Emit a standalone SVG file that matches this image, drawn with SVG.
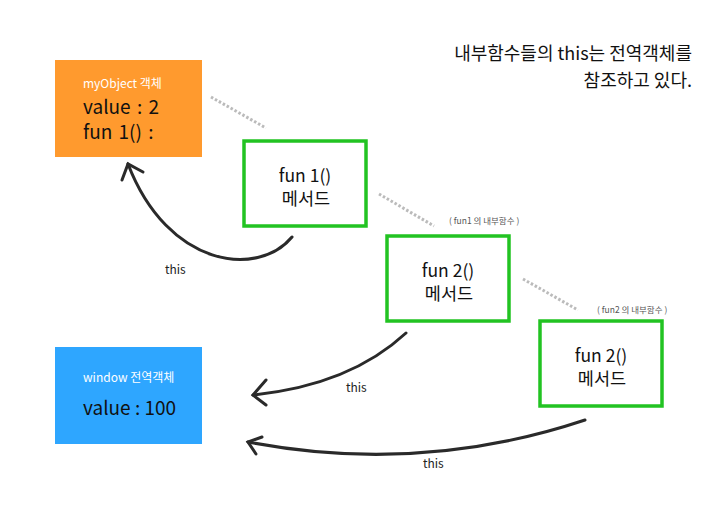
<svg xmlns="http://www.w3.org/2000/svg" width="725" height="530" viewBox="0 0 725 530">
<style>
text{font-family:"Noto Sans CJK KR","Noto Sans",sans-serif;}
.box{fill:#fff;stroke:#22c322;stroke-width:3.5}
.m{font-size:17.5px;fill:#111;text-anchor:middle}
.big{font-size:19px;fill:#111}
.sm{font-size:12px;fill:#fff}
.dot{stroke:#bbb;stroke-width:3;stroke-dasharray:2.5 2;fill:none}
.arr{stroke:#2a2a2a;stroke-width:3;fill:none;stroke-linecap:round}
.lbl{font-size:12px;fill:#222}
.note{font-size:8.5px;fill:#555}
</style>
<rect width="725" height="530" fill="#fff"/>
<g id="title">
<text x="692" y="60" font-size="18" fill="#111" text-anchor="end">내부함수들의 this는 전역객체를</text>
<text x="692" y="87" font-size="18" fill="#111" text-anchor="end">참조하고 있다.</text>
</g>
<g id="myObject">
<rect x="55" y="60" width="147" height="97" fill="#ff9a2e"/>
<text class="sm" x="83" y="88">myObject 객체</text>
<text class="big" x="83" y="114" word-spacing="2">value : 2</text>
<text class="big" x="83" y="139" word-spacing="2">fun 1() :</text>
</g>
<g id="window">
<rect x="55" y="347" width="147" height="97" fill="#2ea6ff"/>
<text class="sm" x="83" y="382">window 전역객체</text>
<text class="big" x="83" y="415">value : 100</text>
</g>
<g id="fun1">
<rect class="box" x="244" y="141" width="122" height="85"/>
<text class="m" x="305" y="182">fun 1()</text>
<text class="m" x="306" y="205">메서드</text>
</g>
<g id="fun2a">
<rect class="box" x="387" y="236" width="122" height="85"/>
<text class="m" x="448" y="277">fun 2()</text>
<text class="m" x="449" y="300">메서드</text>
<text class="note" x="449" y="224">( fun1 의 내부함수 )</text>
</g>
<g id="fun2b">
<rect class="box" x="540" y="321" width="122" height="85"/>
<text class="m" x="601" y="362">fun 2()</text>
<text class="m" x="602" y="385">메서드</text>
<text class="note" x="597" y="313">( fun2 의 내부함수 )</text>
</g>
<g id="connectors">
<line class="dot" x1="211" y1="97" x2="266" y2="128"/>
<line class="dot" x1="379" y1="194" x2="434" y2="226"/>
<line class="dot" x1="523" y1="279" x2="578" y2="310"/>
<path class="arr" d="M292,237 C258,278 168,268 128,164"/>
<path class="arr" d="M122,180 L128,164 L143,172"/>
<path class="arr" d="M406,333 Q350,385 253,395"/>
<path class="arr" d="M266,380 L253,395 L266,405"/>
<path class="arr" d="M585,420 Q420,475 248,442"/>
<path class="arr" d="M262,437 L248,442 L256,454"/>
<text class="lbl" x="165" y="274">this</text>
<text class="lbl" x="346" y="392">this</text>
<text class="lbl" x="423" y="468">this</text>
</g>
</svg>
